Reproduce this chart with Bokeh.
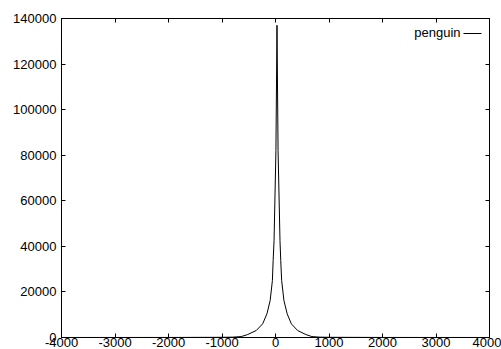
from bokeh.plotting import figure
from bokeh.models import Range1d, FixedTicker, LinearAxis, Label, Arrow, ColumnDataSource, PrintfTickFormatter
from bokeh.embed import file_html
from bokeh.resources import INLINE

# data
x_vals = [-4000, -2000, -1000, -800, -640, -520, -360, -240, -160, -100, -58, -44, -27, 8,
          28, 48, 84, 98, 115, 158, 218, 296, 413, 568, 680, 830, 1030, 2000, 4000]
y_vals = [5, 20, 80, 150, 400, 1300, 3070, 6000, 10400, 16200, 25000, 33800, 42500, 82000,
          137000, 82000, 42500, 33800, 25000, 16200, 10400, 6000, 3070, 1300, 400, 150, 80, 20, 5]
series_name = "penguin"
x_ticks = [-4000, -3000, -2000, -1000, 0, 1000, 2000, 3000, 4000]
y_ticks = [0, 20000, 40000, 60000, 80000, 100000, 120000, 140000]

FONT = "Liberation Sans"
FS = "13px"

p = figure(width=501, height=349, output_backend="svg", toolbar_location=None,
           x_range=Range1d(-4000, 4000), y_range=Range1d(0, 140000),
           x_axis_type=None, y_axis_type=None)
p.min_border_left = 61
p.min_border_right = 12
p.min_border_top = 18
p.min_border_bottom = 12
p.background_fill_color = "white"
p.border_fill_color = "white"
p.outline_line_color = "black"
p.outline_line_width = 1
p.xgrid.visible = False
p.ygrid.visible = False


def style_axis(ax, labels=True):
    ax.formatter = PrintfTickFormatter(format="%d")
    ax.major_tick_in = 4
    ax.major_tick_out = 0
    ax.minor_tick_line_color = None
    ax.axis_line_color = "black"
    ax.major_tick_line_color = "black"
    ax.major_label_text_font = FONT
    ax.major_label_text_font_size = FS
    ax.major_label_text_color = "black"
    ax.major_label_standoff = 2
    if not labels:
        ax.major_label_text_color = None
        ax.major_label_text_font_size = "1px"


xb = LinearAxis(ticker=FixedTicker(ticks=x_ticks))
style_axis(xb)
xb.major_label_standoff = 0
p.add_layout(xb, "below")
xt = LinearAxis(ticker=FixedTicker(ticks=x_ticks))
style_axis(xt, labels=False)
xt.major_label_standoff = 0
p.add_layout(xt, "above")
yl = LinearAxis(ticker=FixedTicker(ticks=y_ticks))
style_axis(yl)
yl.major_label_standoff = 5
p.add_layout(yl, "left")
yr = LinearAxis(ticker=FixedTicker(ticks=y_ticks))
style_axis(yr, labels=False)
yr.major_label_standoff = 0
p.add_layout(yr, "right")

src = ColumnDataSource(dict(x=x_vals, y=y_vals))
p.line("x", "y", source=src, line_color="black", line_width=1)

# legend drawn gnuplot-style: text then line sample
p.add_layout(Label(x=399, y=305, x_units="screen", y_units="screen", text=series_name,
                   text_font=FONT, text_font_size=FS, text_align="right",
                   text_baseline="middle", text_color="black"))
p.add_layout(Arrow(x_start=402, y_start=304, x_end=420, y_end=304,
                   start_units="screen", end_units="screen", start=None, end=None,
                   line_color="black", line_width=1))

open("out.html", "w").write(file_html(p, INLINE))
